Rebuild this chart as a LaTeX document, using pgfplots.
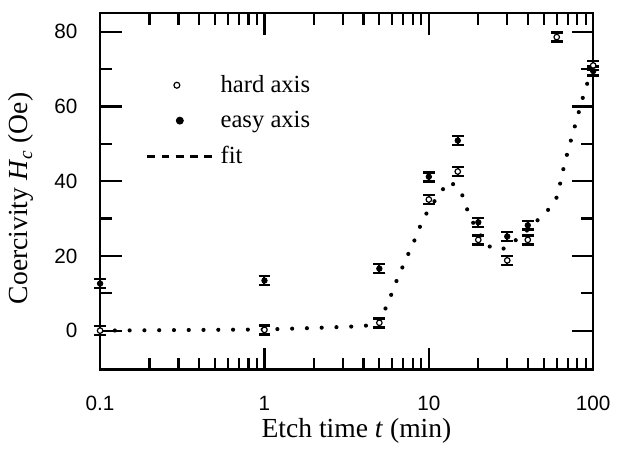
\documentclass[border=0pt]{standalone}
\usepackage{fontspec}
\setmainfont{Liberation Serif}
\newfontfamily\ticksf{Liberation Sans}
\usepackage{pgfplots}
\pgfplotsset{compat=1.18}

\begin{document}
\begin{tikzpicture}
  \begin{axis}[
      scale only axis,
      width=250.3bp, height=180.85bp,
      xmode=log,
      xmin=0.1, xmax=100, ymin=-10.4, ymax=85,
      xtick={0.1,1,10,100}, xticklabels={0.1,1,10,100},
      ytick={0,20,40,60,80}, minor ytick={10,30,50,70},
      tick align=inside,
      xtick pos=both, ytick pos=both,
      xticklabel pos=bottom, yticklabel pos=left,
      major tick length=11bp, minor tick length=6bp,
      every tick/.style={black, line width=1.1bp},
      axis line style={line width=1.1bp},
      /pgf/number format/assume math mode=true,
      ticklabel style={font=\fontsize{10.5bp}{12bp}\ticksf},
      yticklabel style={xshift=-8bp},
      xticklabel style={yshift=-10bp},
      xlabel={Etch time \textit{t} (min)},
      ylabel={Coercivity \textit{H}\textsubscript{\textit{c}} (Oe)},
      label style={font=\fontsize{14bp}{16bp}\selectfont},
      xlabel style={at={(axis description cs:0.52,-0.172)}, anchor=center},
      ylabel style={at={(axis description cs:-0.16,0.48)}, anchor=center},
      clip=false,
      legend cell align=left,
      legend style={draw=none, fill=none, inner sep=0pt, row sep=4bp,
        font=\fontsize{12.5bp}{14bp}\selectfont,
        nodes={inner sep=2bp},
        at={(axis description cs:0.092,0.838)}, anchor=north west},
    ]

    % page frame, same margins as the original figure
    \path (axis description cs:-0.203,-0.216) rectangle (axis description cs:1.029,1.037);

    % fit curve (dotted)
    \addplot[black, line width=2.1bp, line cap=round,
      dash pattern=on 0pt off 7.5bp, forget plot]
      coordinates {
        (0.1,0) (1,0.3) (2,0.7) (4,1.2) (5,2) (5.3,4.7) (5.8,8.7)
        (6.3,12.9) (6.9,16.9) (7.6,21.1) (8.4,25.3) (9.1,29.3) (10,32.5)
        (12.1,37.7) (13.5,40) (15.8,36.9) (16.9,33) (19,28) (22.7,22.7)
        (27.7,21.6) (34,24.3) (40,27) (52.9,32.2) (60.9,36.1) (63.6,40.4)
        (66.9,44.6) (70.6,48.5) (74.9,52.5) (79.6,56.7) (84.6,60.9)
        (89.8,64.9) (100,70.5)
      };

    % easy axis
    \addplot[only marks, mark=*, mark size=1.4bp, black, forget plot,
      error bars/.cd, y dir=both, y explicit,
      error bar style={line width=1bp},
      error mark options={rotate=90, mark size=3bp, line width=1.3bp}]
      coordinates {
        (0.1,12.6) +- (0,1.2)
        (1,13.4)   +- (0,1.2)
        (5,16.6)   +- (0,1.2)
        (10,41.2)  +- (0,1.2)
        (15,50.9)  +- (0,1.2)
        (20,29)    +- (0,1.2)
        (30,25.2)  +- (0,1.2)
        (40,28.2)  +- (0,1.2)
        (100,69.5) +- (0,1.2)
      };

    % hard axis
    \addplot[only marks, mark=*, mark size=1.4bp, black,
      mark options={fill=white, line width=0.6bp}, forget plot,
      error bars/.cd, y dir=both, y explicit,
      error bar style={line width=1bp},
      error mark options={rotate=90, mark size=3bp, line width=1.3bp}]
      coordinates {
        (0.1,0)    +- (0,1.2)
        (1,0.2)    +- (0,1.2)
        (5,2.1)    +- (0,1.2)
        (10,35.1)  +- (0,1.2)
        (15,42.6)  +- (0,1.2)
        (20,24.3)  +- (0,1.2)
        (30,18.8)  +- (0,1.2)
        (40,24.3)  +- (0,1.2)
        (60,78.6)  +- (0,1.2)
        (100,71)   +- (0,1.2)
      };

    % legend
    \addlegendimage{legend image code/.code={
        \path (-35bp,0) (0bp,0);
        \draw[black, line width=0.6bp, fill=white] (-20bp,0) circle (1.5bp);}}
    \addlegendentry{hard axis}
    \addlegendimage{legend image code/.code={
        \path (-35bp,0) (0bp,0);
        \fill[black] (-18.5bp,0) circle (1.8bp);}}
    \addlegendentry{easy axis}
    \addlegendimage{legend image code/.code={
        \draw[black, line width=1.5bp, dash pattern=on 4bp off 3.2bp]
          (-35bp,0) -- (-1bp,0);}}
    \addlegendentry{fit}
  \end{axis}
\end{tikzpicture}
\end{document}
